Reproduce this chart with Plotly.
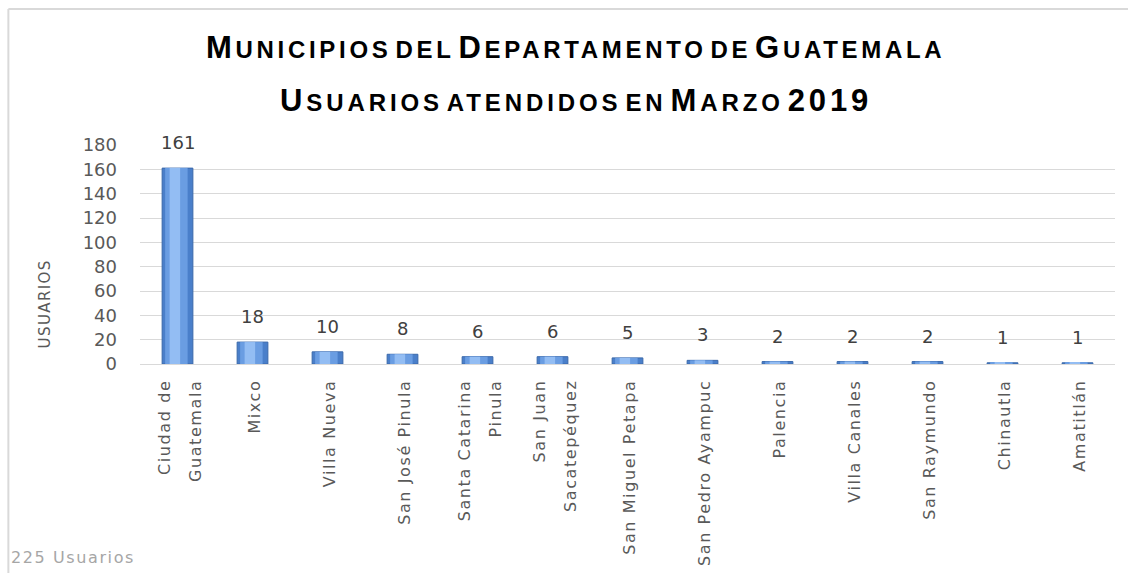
import plotly.graph_objects as go

categories = ["Ciudad de<br>Guatemala", "Mixco", "Villa Nueva", "San José Pinula",
              "Santa Catarina<br>Pinula", "San Juan<br>Sacatepéquez", "San Miguel Petapa",
              "San Pedro Ayampuc", "Palencia", "Villa Canales", "San Raymundo",
              "Chinautla", "Amatitlán"]
usuarios = [161, 18, 10, 8, 6, 6, 5, 3, 2, 2, 2, 1, 1]
y_ticks = [0, 20, 40, 60, 80, 100, 120, 140, 160, 180]

TFONT = "Liberation Sans, Arial, sans-serif"
LFONT = "DejaVu Sans, Verdana, sans-serif"

def small_caps(text, big=30, small=23, ls=3.5):
    out = []
    for word in text.split(" "):
        if word.isdigit():
            out.append(f"<span style='font-size:{big}px;letter-spacing:{ls}px'>{word}</span>")
        elif word and word[0].isupper():
            out.append(f"<span style='font-size:{big}px;letter-spacing:{ls}px'>{word[0]}</span>"
                       f"<span style='font-size:{small}px;letter-spacing:{ls}px'>{word[1:].upper()}</span>")
        else:
            out.append(f"<span style='font-size:{small}px;letter-spacing:{ls}px'>{word.upper()}</span>")
    return "<span style='font-size:14px'> </span>".join(out)

def tick_label(cat):
    return "<br>".join(f"<span style='font-size:16px;letter-spacing:1.6px'>{p}</span>"
                       for p in cat.split("<br>"))

fig = go.Figure()
# base (dark edges)
fig.add_trace(go.Bar(
    x=categories, y=usuarios,
    marker=dict(color="#4A7FCA", line=dict(color="#3A68AA", width=1)),
    width=0.41, hoverinfo="skip",
))
# middle tone
fig.add_trace(go.Bar(
    x=categories, y=usuarios,
    marker=dict(color="#6A9DE2", line=dict(width=0)),
    width=0.30, offset=-0.165, hoverinfo="skip",
))
# light highlight
fig.add_trace(go.Bar(
    x=categories, y=usuarios,
    marker=dict(color="#93BDF3", line=dict(width=0)),
    width=0.14, offset=-0.105, hoverinfo="skip",
))

annotations = []
for c, v in zip(categories, usuarios):
    annotations.append(dict(
        x=c, y=v, xref="x", yref="y", text=str(v), showarrow=False,
        yanchor="bottom", yshift=13,
        font=dict(family=LFONT, size=18, color="#404040"),
    ))

annotations += [
    dict(text="<b>" + small_caps("Municipios del Departamento de Guatemala", 31, 24, 3.7) + "</b>",
         xref="paper", yref="paper", x=0.447, y=1.0, yanchor="middle", yshift=98,
         showarrow=False, font=dict(family=TFONT, color="#000000")),
    dict(text="<b>" + small_caps("Usuarios atendidos en Marzo 2019", 31, 24, 3.9) + "</b>",
         xref="paper", yref="paper", x=0.447, y=1.0, yanchor="middle", yshift=45,
         showarrow=False, font=dict(family=TFONT, color="#000000")),
    dict(text="<span style='letter-spacing:1.4px'>USUARIOS</span>", xref="paper", yref="paper",
         x=-0.097, y=0.274, xanchor="center", yanchor="middle", textangle=-90, showarrow=False,
         font=dict(size=15, color="#595959", family=LFONT)),
    dict(text="<span style='letter-spacing:1.6px'>225 Usuarios</span>", xref="paper", yref="paper",
         x=-0.134, y=0, xanchor="left", yanchor="middle", yshift=-193, showarrow=False,
         font=dict(size=16, color="#a6a6a6", family=LFONT)),
]

fig.update_layout(
    width=1128, height=573,
    margin=dict(l=140, r=13, t=145, b=209, autoexpand=False),
    paper_bgcolor="white", plot_bgcolor="white",
    showlegend=False, barmode="overlay",
    font=dict(family=LFONT, color="#595959"),
    xaxis=dict(
        tickangle=-90, tickfont=dict(size=24, color="#595959", family=LFONT),
        tickmode="array", tickvals=categories, ticktext=[tick_label(c) for c in categories],
        showgrid=False, showline=True, linecolor="#d9d9d9", ticks="",
        automargin=False, ticklabelstandoff=5,
    ),
    yaxis=dict(
        range=[0, 180], tickvals=y_ticks, showgrid=True, gridcolor="#d9d9d9",
        zeroline=False, showline=False, ticks="", automargin=False,
        tickfont=dict(size=18, color="#595959", family=LFONT),
        ticklabelstandoff=22,
    ),
    annotations=annotations,
    shapes=[
        dict(type="line", xref="paper", yref="paper", x0=-0.135, x1=1.02,
             y0=1.0 + 136 / 219, y1=1.0 + 136 / 219, line=dict(color="#d9d9d9", width=2)),
        dict(type="line", xref="paper", yref="paper", x0=-0.135, x1=-0.135,
             y0=1.0 + 136 / 219, y1=-1.0, line=dict(color="#d9d9d9", width=2)),
    ],
)

fig.write_html("out.html", config={"displayModeBar": False},
               post_script="document.body.style.margin='0';")
